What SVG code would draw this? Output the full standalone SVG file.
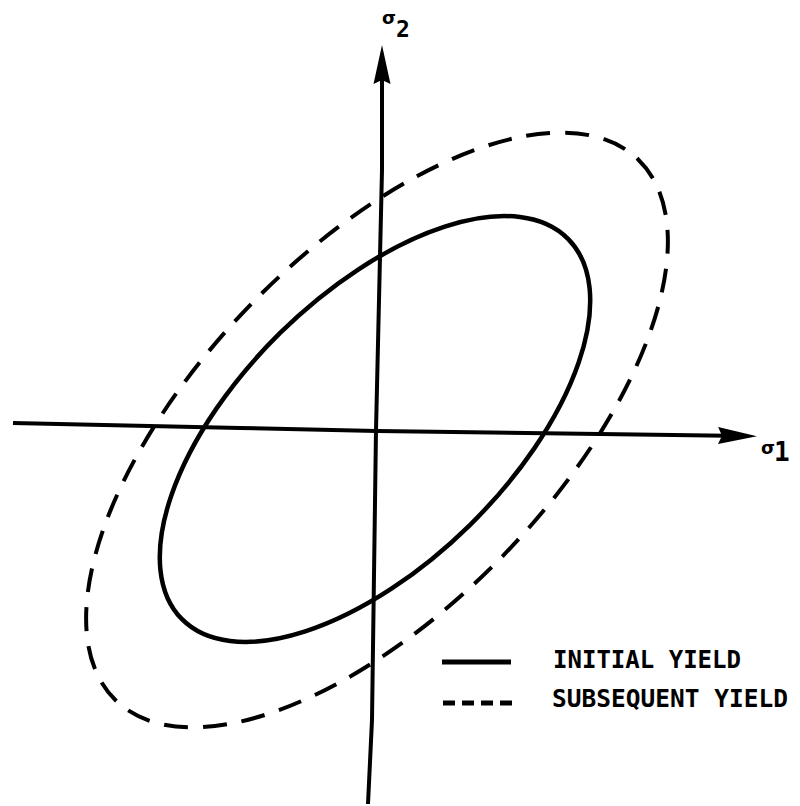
<svg xmlns="http://www.w3.org/2000/svg" width="800" height="806" viewBox="0 0 800 806">
<style>
.axis{fill:none;stroke:#000;stroke-width:4;stroke-linejoin:round}
.solid{fill:none;stroke:#000;stroke-width:4.5}
.dash{fill:none;stroke:#000;stroke-width:4;stroke-dasharray:24 15}
.lbl{font-family:"DejaVu Sans Mono","Liberation Mono",monospace;font-weight:bold;fill:#000}
.sig{font-family:"DejaVu Sans","Liberation Sans",sans-serif;font-weight:bold;fill:#000}
</style>
<defs>
<marker id="arr" markerUnits="userSpaceOnUse" markerWidth="40" markerHeight="20" viewBox="0 0 40 20" refX="28" refY="10" orient="auto">
<path d="M0,1.5 L39,10 L0,18.5 L4,10 Z" fill="#000"/>
</marker>
</defs>
<rect width="800" height="806" fill="#fff"/>
<g id="connectors">
<path id="axis-s1" class="axis" d="M13,423 L240,428 L377,431 L746,436" marker-end="url(#arr)"/>
<path id="axis-s2" class="axis" d="M368,804 L372,720 L376,430 L379,300 L382,170 L382,56" marker-end="url(#arr)"/>
</g>
<g id="initial-yield">
<ellipse class="solid" cx="375" cy="429" rx="271" ry="135" transform="rotate(-44.5 375 429)"/>
</g>
<g id="subsequent-yield">
<ellipse class="dash" cx="377" cy="430" rx="376" ry="178" transform="rotate(-46 377 430)"/>
</g>
<g id="label-s2">
<text class="sig" x="382" y="24" font-size="18">σ</text>
<text class="lbl" x="396" y="37" font-size="23">2</text>
</g>
<g id="label-s1">
<text class="sig" x="761" y="454" font-size="18">σ</text>
<text class="lbl" x="774" y="461" font-size="26">1</text>
</g>
<g id="legend">
<line x1="442" y1="662" x2="511" y2="662" stroke="#000" stroke-width="5"/>
<line x1="443" y1="703" x2="512" y2="703" stroke="#000" stroke-width="5" stroke-dasharray="12 7"/>
<text class="lbl" x="553" y="668" font-size="25" textLength="188" lengthAdjust="spacingAndGlyphs">INITIAL YIELD</text>
<text class="lbl" x="552" y="707" font-size="25" textLength="236" lengthAdjust="spacingAndGlyphs">SUBSEQUENT YIELD</text>
</g>
</svg>
